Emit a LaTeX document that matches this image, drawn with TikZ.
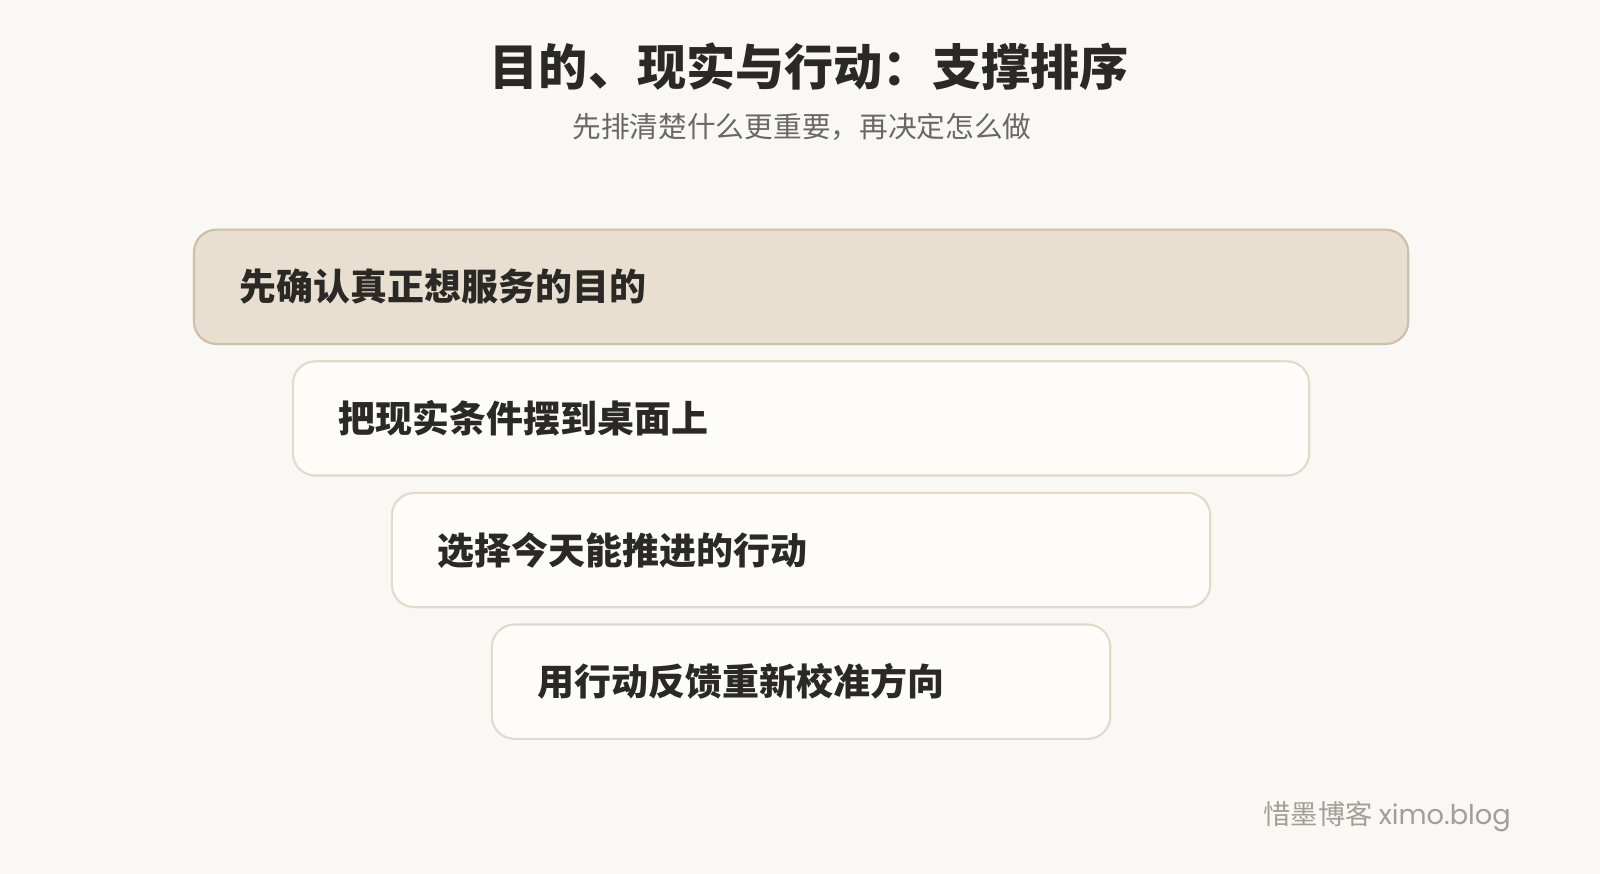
\documentclass[tikz,border=0pt]{standalone}
\usepackage{fontspec}
\setmainfont{Noto Sans CJK SC}
\newfontfamily\latinmark{Poppins}
\usepackage{tikz}
\usetikzlibrary{backgrounds}
\definecolor{paper}{HTML}{FAF8F4}
\definecolor{ink}{HTML}{2B2926}
\definecolor{greyink}{HTML}{6B6762}
\definecolor{markink}{HTML}{A39E96}
\definecolor{topfill}{HTML}{E9DFD0}
\definecolor{topline}{HTML}{CDBFAA}
\definecolor{boxfill}{HTML}{FDFCF9}
\definecolor{boxline}{HTML}{E4DACB}

\begin{document}
\begin{tikzpicture}[
  stepbox/.style={draw=boxline, fill=boxfill, line width=0.6pt, rounded corners=0.22cm,
    anchor=north west, minimum height=1.12cm, inner xsep=0.45cm, align=left,
    font=\fontsize{10.3pt}{12pt}\selectfont\bfseries, text=ink},
  topbox/.style={stepbox, draw=topline, fill=topfill}]
\fill[paper] (0,0) rectangle (15.68,8.565);
\useasboundingbox (0,0) rectangle (15.68,8.565);
% title
\node[font=\fontsize{13.7pt}{16pt}\selectfont\bfseries, text=ink] (title) at (7.93,7.915) {目的、现实与行动：支撑排序};
\node[font=\fontsize{8pt}{10pt}\selectfont, text=greyink] (subtitle) at (7.86,7.325) {先排清楚什么更重要，再决定怎么做};
% steps
\node[topbox, minimum width=11.90cm, text width=11.00cm] (purpose) at (1.89,6.325) {先确认真正想服务的目的};
\node[stepbox, minimum width=9.96cm, text width=9.06cm] (reality) at (2.86,5.035) {把现实条件摆到桌面上};
\node[stepbox, minimum width=8.02cm, text width=7.12cm] (action) at (3.83,3.745) {选择今天能推进的行动};
\node[stepbox, minimum width=6.06cm, text width=5.16cm] (feedback) at (4.81,2.455) {用行动反馈重新校准方向};
% footer
\node[anchor=east, font=\fontsize{7.6pt}{9pt}\selectfont, text=markink] (mark) at (14.93,0.565) {惜墨博客 {\latinmark ximo.blog}};
\end{tikzpicture}
\end{document}
